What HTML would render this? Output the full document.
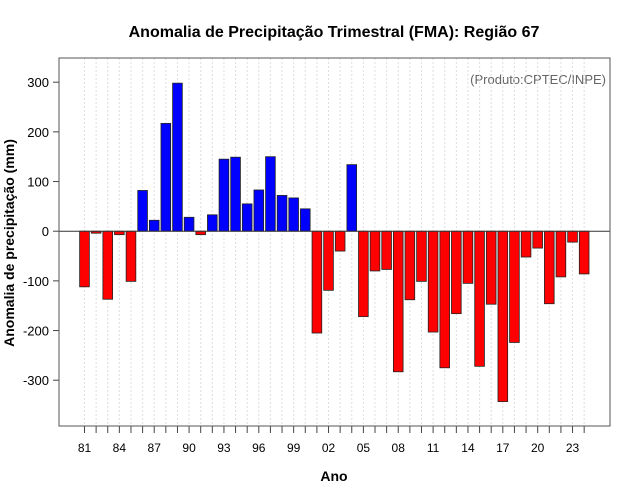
<!DOCTYPE html>
<html><head><meta charset="utf-8"><style>body{margin:0;background:#fff}svg{display:block;font-family:"Liberation Sans",sans-serif}</style></head>
<body>
<svg id="chart" width="640" height="500" xmlns="http://www.w3.org/2000/svg">
<text x="334" y="37" text-anchor="middle" font-size="16" font-weight="bold">Anomalia de Precipitação Trimestral (FMA): Região 67</text>
<text x="606" y="84" text-anchor="end" font-size="13" fill="#666">(Produto:CPTEC/INPE)</text>
<text transform="translate(14,243) rotate(-90)" text-anchor="middle" font-size="14" font-weight="bold">Anomalia de precipitação (mm)</text>
<text x="334" y="481" text-anchor="middle" font-size="14" font-weight="bold">Ano</text>
<g id="grid"></g><g id="bars"></g><g id="axes"></g>
<rect x="59" y="58" width="551" height="368" fill="none" stroke="#555" stroke-width="1"/>
</svg>
<script>
const years = [1981,1982,1983,1984,1985,1986,1987,1988,1989,1990,1991,1992,1993,1994,1995,1996,1997,1998,1999,2000,2001,2002,2003,2004,2005,2006,2007,2008,2009,2010,2011,2012,2013,2014,2015,2016,2017,2018,2019,2020,2021,2022,2023,2024];
const anomalies = [-112,-4,-137,-7,-101,82,22,217,298,28,-7,33,145,149,55,83,150,72,67,45,-205,-119,-40,134,-172,-80,-77,-283,-138,-101,-203,-275,-166,-105,-272,-147,-343,-224,-52,-34,-146,-92,-22,-86];
const yTicks = [-300,-200,-100,0,100,200,300];
const NS="http://www.w3.org/2000/svg";
const x0=84.5, pitch=11.62, bw=9.7;
const xs = i => x0 + i*pitch;
const ys = v => 231.2 - v*0.4967;
function mk(tag, attrs, parent){const e=document.createElementNS(NS,tag);for(const k in attrs)e.setAttribute(k,attrs[k]);parent.appendChild(e);return e;}
const grid=document.getElementById('grid'), bars=document.getElementById('bars'), axes=document.getElementById('axes');
years.forEach((y,i)=>{
  const g=mk('line',{x1:xs(i),x2:xs(i),y1:58,y2:426,stroke:'#ddd','stroke-dasharray':'2,2','stroke-width':1},grid);
  
  
  const v=anomalies[i];
  const r=mk('rect',{x:xs(i)-bw/2,y:Math.min(ys(v),ys(0)),width:bw,height:Math.abs(ys(v)-ys(0)),fill:v>=0?'#0000ff':'#ff0000',stroke:'#222','stroke-width':0.8},bars);
  
  
  const t=mk('line',{x1:xs(i),x2:xs(i),y1:426,y2:433,stroke:'#444'},axes);
  
  
  if(i%3===0){
    const l=mk('text',{x:xs(i),y:452,'text-anchor':'middle','font-size':12},axes);
    l.textContent=String(y%100).padStart(2,'0');
    
    
  }
});
const zl=mk('line',{x1:59,x2:610,y1:ys(0),y2:ys(0),stroke:'#333','stroke-width':1},bars);


yTicks.forEach(v=>{
  const t=mk('line',{x1:53,x2:59,y1:ys(v),y2:ys(v),stroke:'#444'},axes);
  
  
  const l=mk('text',{x:49,y:ys(v)+5,'text-anchor':'end','font-size':13},axes);
  l.textContent=v;
  
  
});
</script>
</body></html>
